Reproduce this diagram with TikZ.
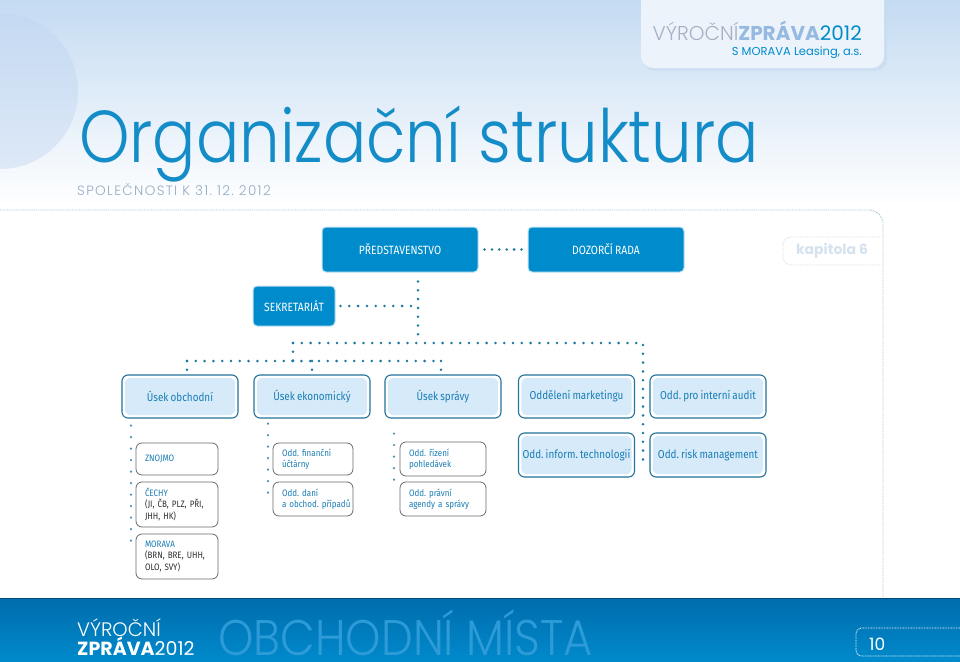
\documentclass[tikz,border=0pt]{standalone}
\usepackage{fontspec}
\setmainfont{Fira Sans}[FakeStretch=0.86, WordSpace=0.8]
\newfontfamily\thinfont{Poppins Light}
\newfontfamily\titlefont{Poppins Light}[FakeStretch=0.873]
\newfontfamily\placefont{Poppins Light}[FakeStretch=0.9]
\newfontfamily\spacedfont{Poppins Light}[LetterSpace=10]
\newfontfamily\headfont{Poppins}
\usetikzlibrary{positioning, calc}
\hyphenpenalty=10000
\frenchspacing
\definecolor{boardblue}{RGB}{0,140,204}
\definecolor{titleblue}{RGB}{20,140,200}
\definecolor{subgray}{RGB}{150,172,196}
\definecolor{deptline}{RGB}{35,115,155}
\definecolor{deptfill}{RGB}{214,234,250}
\definecolor{depttext}{RGB}{25,125,180}
\definecolor{subline}{RGB}{105,105,105}
\definecolor{linkblue}{RGB}{25,120,160}
\definecolor{framegray}{RGB}{165,195,210}
\definecolor{bgtop}{RGB}{196,219,242}
\definecolor{circtop}{RGB}{196,217,242}
\definecolor{circbot}{RGB}{222,233,247}
\definecolor{tabfill}{RGB}{237,243,250}
\definecolor{hdrgray}{RGB}{165,178,195}
\definecolor{hdrlight}{RGB}{150,185,225}
\definecolor{kapitola}{RGB}{212,226,240}
\definecolor{foottop}{RGB}{0,108,172}
\definecolor{footbot}{RGB}{0,138,204}
\definecolor{footword}{RGB}{45,155,215}
\definecolor{darktext}{RGB}{45,45,45}

\begin{document}
\begin{tikzpicture}[x=1pt, y=-1pt,
  topbox/.style={fill=boardblue, draw=boardblue!25, line width=1pt, rounded corners=4pt,
    text=white, font=\fontsize{12}{14}\selectfont, minimum height=45pt},
  deptbox/.style={draw=deptline, line width=1.1pt, fill=white, rounded corners=6pt,
    minimum width=116pt, text=depttext, font=\fontsize{11.5}{13}\selectfont,
    path picture={\fill[deptfill] ([shift={(2.8pt,-2.8pt)}]path picture bounding box.north west)
      rectangle ([shift={(-2.8pt,2.8pt)}]path picture bounding box.south east);}},
  subbox/.style={draw=subline, line width=0.8pt, fill=white, rounded corners=6pt,
    inner xsep=9pt, text width=#1, align=left, text=darktext,
    font=\fontsize{9.3}{11.3}\selectfont},
  link/.style={draw=linkblue, line width=2.8pt, line cap=round, dash pattern=on 0pt off 8.8pt},
  sublink/.style={draw=linkblue!80, line width=2.4pt, line cap=round, dash pattern=on 0pt off 11.5pt},
  framedot/.style={draw=framegray, line width=0.9pt, dash pattern=on 0.9pt off 0.9pt}]
  \useasboundingbox (0,0) rectangle (960,661);
  % background
  \shade[top color=bgtop, bottom color=white] (0,0) rectangle (960,205);
  \fill[white] (0,205) rectangle (960,598);
  \shade[top color=circtop, bottom color=circbot] (0,91) circle (78);
  % header tab
  \fill[bgtop, opacity=0.6, rounded corners=12pt] (643,-12) rectangle (887,71);
  \fill[tabfill, rounded corners=12pt] (641,-12) rectangle (884,68);
  \node[anchor=base east, inner sep=0, font=\fontsize{20}{20}\selectfont] (report) at (862,41)
    {{\thinfont\color{hdrgray}VÝROČNÍ}{\headfont\bfseries\color{hdrlight}ZPRÁVA}{\headfont\color{boardblue}2012}};
  \node[anchor=base east, inner sep=0, font=\headfont\fontsize{11.5}{11.5}\selectfont, text=boardblue] (company) at (862,56)
    {S MORAVA Leasing, a.s.};
  % title
  \node[anchor=base west, inner sep=0, font=\titlefont\fontsize{73.5}{74}\selectfont, text=titleblue] (title) at (79,162)
    {Organizační struktura};
  \node[anchor=base west, inner sep=0, font=\spacedfont\fontsize{13.5}{14}\selectfont, text=subgray] (subtitle) at (77,195)
    {SPOLEČNOSTI K 31. 12. 2012};
  % dotted frame and chapter tab
  \draw[framedot, rounded corners=14pt] (0,210) -- (883,210) -- (883,597);
  \draw[framedot, draw=kapitola, rounded corners=8pt] (880,237) -- (783,237) -- (783,265) -- (880,265);
  \node[text=kapitola, font=\headfont\bfseries\fontsize{14}{14}\selectfont] (chapter) at (832,251) {kapitola 6};

  % boards
  \node[topbox, minimum width=156pt] (pred) at (400,249.5) {PŘEDSTAVENSTVO};
  \node[topbox, minimum width=156pt] (dozor) at (606,249.5) {DOZORČÍ RADA};
  \node[topbox, minimum width=82pt, minimum height=40pt] (sekr) at (294,306) {SEKRETARIÁT};

  % departments
  \node[deptbox, minimum height=43pt] (obch) at (180,396.5) {Úsek obchodní};
  \node[deptbox, minimum height=43pt] (ekon) at (312,396.5) {Úsek ekonomický};
  \node[deptbox, minimum height=43pt] (sprava) at (443,396.5) {Úsek správy};
  \node[deptbox, minimum height=43pt] (mark) at (576.5,396.5) {Oddělení marketingu};
  \node[deptbox, minimum height=43pt] (audit) at (708,396.5) {Odd. pro interní audit};
  \node[deptbox, minimum height=44pt] (infotech) at (576.5,455) {Odd. inform. technologií};
  \node[deptbox, minimum height=44pt] (risk) at (708,455) {Odd. risk management};

  % branches
  \node[subbox=64pt, minimum height=32pt] (znojmo) at (177,459) {\textcolor{depttext}{ZNOJMO}};
  \node[subbox=64pt, minimum height=45pt] (cechy) at (177,504.5)
    {\textcolor{depttext}{ČECHY}\\(JI, ČB, PLZ, PŘI,\\JHH, HK)};
  \node[subbox=64pt, minimum height=45pt] (morava) at (177,556.5)
    {\textcolor{depttext}{MORAVA}\\(BRN, BRE, UHH,\\OLO, SVY)};
  \node[subbox=62pt, minimum height=32pt, text=depttext] (fin) at (313,459) {Odd. finanční\\účtárny};
  \node[subbox=62pt, minimum height=34pt, text=depttext] (dane) at (313,499) {Odd. daní\\a~obchod.~případů};
  \node[subbox=68pt, minimum height=34pt, text=depttext] (rizeni) at (443,459) {Odd. řízení\\pohledávek};
  \node[subbox=68pt, minimum height=34pt, text=depttext] (pravni) at (443,499) {Odd. právní\\agendy a správy};

  % dotted links
  \coordinate (trunk) at (418,343);
  \coordinate (hleft) at (293,343);
  \coordinate (hright) at (643,343);
  \coordinate (bleft) at (187,361);
  \coordinate (bright) at (441,361);
  \coordinate (itend) at (643,461);
  \draw[link, dash pattern=on 0pt off 7.4pt, shorten <=6pt, shorten >=5pt] (pred) -- (dozor);
  \draw[link, shorten <=9pt] (pred.south -| trunk) -- (trunk);
  \draw[link, shorten <=5pt] (sekr.east) -- (sekr.east -| trunk);
  \draw[link] (hleft) -- (hright) -- (itend);
  \draw[link] (hleft) -- (hleft |- bleft);
  \draw[link] (bleft) -- (bright);
  \draw[link] (bleft) -- (bleft |- obch.north);
  \draw[link] (ekon.north |- bleft) -- (ekon.north);
  \draw[link] (bright) -- (bright |- sprava.north);
  % branch lines
  \coordinate (obchend) at (131,552);
  \coordinate (ekonend) at (268,500);
  \coordinate (spravaend) at (394,483);
  \draw[sublink] (obch.south -| obchend) ++(0,7) -- (obchend);
  \draw[sublink] (ekon.south -| ekonend) ++(0,5) -- (ekonend);
  \draw[sublink] (sprava.south -| spravaend) ++(0,15) -- (spravaend);

  % footer
  \shade[top color=foottop, bottom color=footbot] (0,598) rectangle (960,661);
  \draw[foottop!70!black, line width=1pt] (0,598) -- (960,598);
  \node[anchor=base west, inner sep=0, text=white, font=\thinfont\fontsize{19.5}{20}\selectfont] (foota) at (77,636) {VÝROČNÍ};
  \node[anchor=base west, inner sep=0, text=white, font=\headfont\fontsize{19}{19}\selectfont] (footb) at (77,655)
    {\textbf{ZPRÁVA}2012};
  \node[anchor=base west, inner sep=0, text=footword, font=\placefont\fontsize{50}{50}\selectfont] (place) at (218,655)
    {OBCHODNÍ MÍSTA};
  \draw[white, line width=0.8pt, dash pattern=on 0.8pt off 0.8pt, rounded corners=6pt]
    (960,628) -- (856,628) -- (856,656) -- (960,656);
  \node[anchor=base west, inner sep=0, text=white, font=\headfont\fontsize{17}{17}\selectfont] (page) at (869,650) {10};
\end{tikzpicture}
\end{document}
